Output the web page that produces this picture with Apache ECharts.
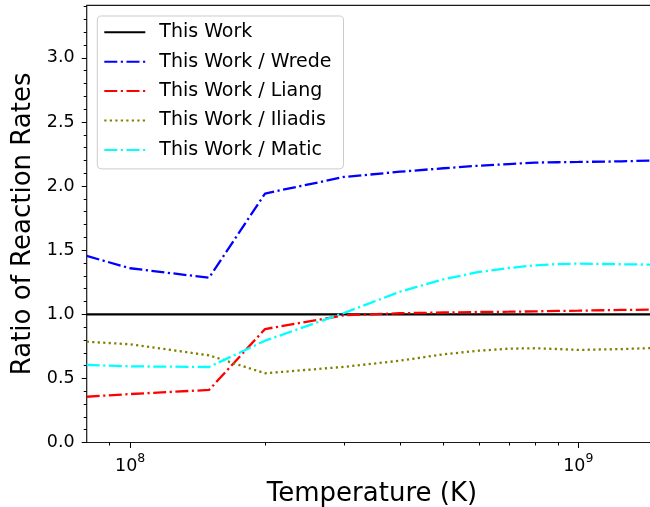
<!DOCTYPE html>
<html>
<head>
<meta charset="utf-8">
<script src="https://cdn.jsdelivr.net/npm/echarts@6.0.0/dist/echarts.min.js"></script>
<style>
html,body{margin:0;padding:0;background:#fff;}
#chart{width:650px;height:507px;}
</style>
</head>
<body>
<div id="chart"></div>
<script>
// ---- data ----
const temperature = [8e7, 1e8, 1.5e8, 2e8, 3e8, 4e8, 5e8, 6e8, 7e8, 8e8, 9e8, 1e9, 1.25e9, 1.5e9];
const thisWork = [1, 1, 1, 1, 1, 1, 1, 1, 1, 1, 1, 1, 1, 1];
const wrede   = [1.455, 1.359, 1.285, 1.942, 2.071, 2.112, 2.139, 2.159, 2.172, 2.183, 2.186, 2.188, 2.193, 2.200];
const liang   = [0.357, 0.378, 0.410, 0.885, 0.992, 1.008, 1.014, 1.018, 1.020, 1.023, 1.026, 1.028, 1.034, 1.037];
const iliadis = [0.786, 0.766, 0.680, 0.540, 0.590, 0.638, 0.688, 0.716, 0.732, 0.735, 0.729, 0.722, 0.729, 0.738];
const matic   = [0.605, 0.594, 0.589, 0.794, 1.010, 1.176, 1.273, 1.330, 1.361, 1.382, 1.392, 1.395, 1.390, 1.387];

const seriesNames = ['This Work', 'This Work / Wrede', 'This Work / Liang', 'This Work / Iliadis', 'This Work / Matic'];

// tick values
const xMajorTicks = [1e8, 1e9];
const xMinorTicks = [9e7, 2e8, 3e8, 4e8, 5e8, 6e8, 7e8, 8e8, 9e8];
const yMajorTicks = [0, 0.5, 1.0, 1.5, 2.0, 2.5, 3.0];
const yMinorTicks = [0.1, 0.2, 0.3, 0.4, 0.6, 0.7, 0.8, 0.9, 1.1, 1.2, 1.3, 1.4, 1.6, 1.7, 1.8, 1.9,
                     2.1, 2.2, 2.3, 2.4, 2.6, 2.7, 2.8, 2.9, 3.1, 3.2, 3.3, 3.4];

const xMin = 8e7, xMax = 1.5e9, yMin = 0, yMax = 3.41;
const FONT = 'DejaVu Sans';
const DASHDOT = [13, 3.5, 2.2, 3.5];
const DOTTED = [2.2, 3.3];
const LW = 2.3;

function pairs(ys) { return temperature.map((t, i) => [t, ys[i]]); }

const chart = echarts.init(document.getElementById('chart'), null, {renderer: 'canvas'});

const tickStyle = {color: '#000', width: 1};

const option = {
  animation: false,
  backgroundColor: '#fff',
  textStyle: {fontFamily: FONT},
  grid: {
    left: 86.7, top: 5.3, right: -7.2, bottom: 64.5,
    containLabel: false, outerBoundsMode: 'none',
    show: true, borderColor: '#1a1a1a', borderWidth: 1.2, backgroundColor: 'transparent'
  },
  legend: {
    orient: 'vertical',
    left: 97.3, top: 16,
    padding: [5.3, 12, 8, 6],
    itemWidth: 41, itemHeight: 14, itemGap: 7.4,
    backgroundColor: 'rgba(255,255,255,0.8)',
    borderColor: '#cccccc', borderWidth: 1, borderRadius: 4,
    itemStyle: {opacity: 0, borderWidth: 0},
    textStyle: {fontFamily: FONT, fontSize: 19, color: '#000', lineHeight: 22, padding: [0, 0, 0, 9]},
    data: seriesNames
  },
  xAxis: [
    {
      type: 'log', logBase: 10, min: xMin, max: xMax, position: 'bottom',
      axisLine: {show: false}, splitLine: {show: false}, minorTick: {show: false},
      axisTick: {show: true, length: 5.5, lineStyle: tickStyle, customValues: xMajorTicks},
      axisLabel: {
        customValues: xMajorTicks, margin: 9.4,
        formatter: v => '{b|10}{s|' + Math.round(Math.log10(v)) + '}',
        rich: {
          b: {fontFamily: FONT, fontSize: 17.5, color: '#000', lineHeight: 24, verticalAlign: 'bottom'},
          s: {fontFamily: FONT, fontSize: 12.5, color: '#000', lineHeight: 12, verticalAlign: 'top'}
        }
      },
      name: 'Temperature (K)', nameLocation: 'middle', nameGap: 34,
      nameTextStyle: {fontFamily: FONT, fontSize: 26, color: '#000', lineHeight: 26}
    },
    {
      type: 'log', logBase: 10, min: xMin, max: xMax, position: 'bottom',
      axisLine: {show: false}, splitLine: {show: false}, axisLabel: {show: false},
      axisTick: {show: true, length: 3, lineStyle: tickStyle, customValues: xMinorTicks}
    }
  ],
  yAxis: [
    {
      type: 'value', min: yMin, max: yMax, position: 'left',
      axisLine: {show: false}, splitLine: {show: false},
      axisTick: {show: true, length: 5, lineStyle: tickStyle, customValues: yMajorTicks},
      axisLabel: {customValues: yMajorTicks, margin: 12, fontFamily: FONT, fontSize: 17.5, color: '#000',
                  formatter: v => Number(v).toFixed(1)},
      name: 'Ratio of Reaction Rates', nameLocation: 'middle', nameGap: 49.4, nameRotate: 90,
      nameTextStyle: {fontFamily: FONT, fontSize: 26, color: '#000', lineHeight: 26}
    },
    {
      type: 'value', min: yMin, max: yMax, position: 'left',
      axisLine: {show: false}, splitLine: {show: false}, axisLabel: {show: false},
      axisTick: {show: true, length: 3, lineStyle: tickStyle, customValues: yMinorTicks}
    }
  ],
  series: [
    {name: seriesNames[0], type: 'line', data: pairs(thisWork), symbol: 'none', xAxisIndex: 0, yAxisIndex: 0,
     lineStyle: {color: '#000000', width: LW, type: 'solid'}, itemStyle: {color: '#000000'}},
    {name: seriesNames[1], type: 'line', data: pairs(wrede), symbol: 'none', xAxisIndex: 0, yAxisIndex: 0,
     lineStyle: {color: '#0000ff', width: LW, type: DASHDOT}, itemStyle: {color: '#0000ff'}},
    {name: seriesNames[2], type: 'line', data: pairs(liang), symbol: 'none', xAxisIndex: 0, yAxisIndex: 0,
     lineStyle: {color: '#ff0000', width: LW, type: DASHDOT}, itemStyle: {color: '#ff0000'}},
    {name: seriesNames[3], type: 'line', data: pairs(iliadis), symbol: 'none', xAxisIndex: 0, yAxisIndex: 0,
     lineStyle: {color: '#808000', width: LW, type: DOTTED}, itemStyle: {color: '#808000'}},
    {name: seriesNames[4], type: 'line', data: pairs(matic), symbol: 'none', xAxisIndex: 0, yAxisIndex: 0,
     lineStyle: {color: '#00ffff', width: LW, type: DASHDOT}, itemStyle: {color: '#00ffff'}}
  ]
};
chart.setOption(option);
</script>
</body>
</html>
